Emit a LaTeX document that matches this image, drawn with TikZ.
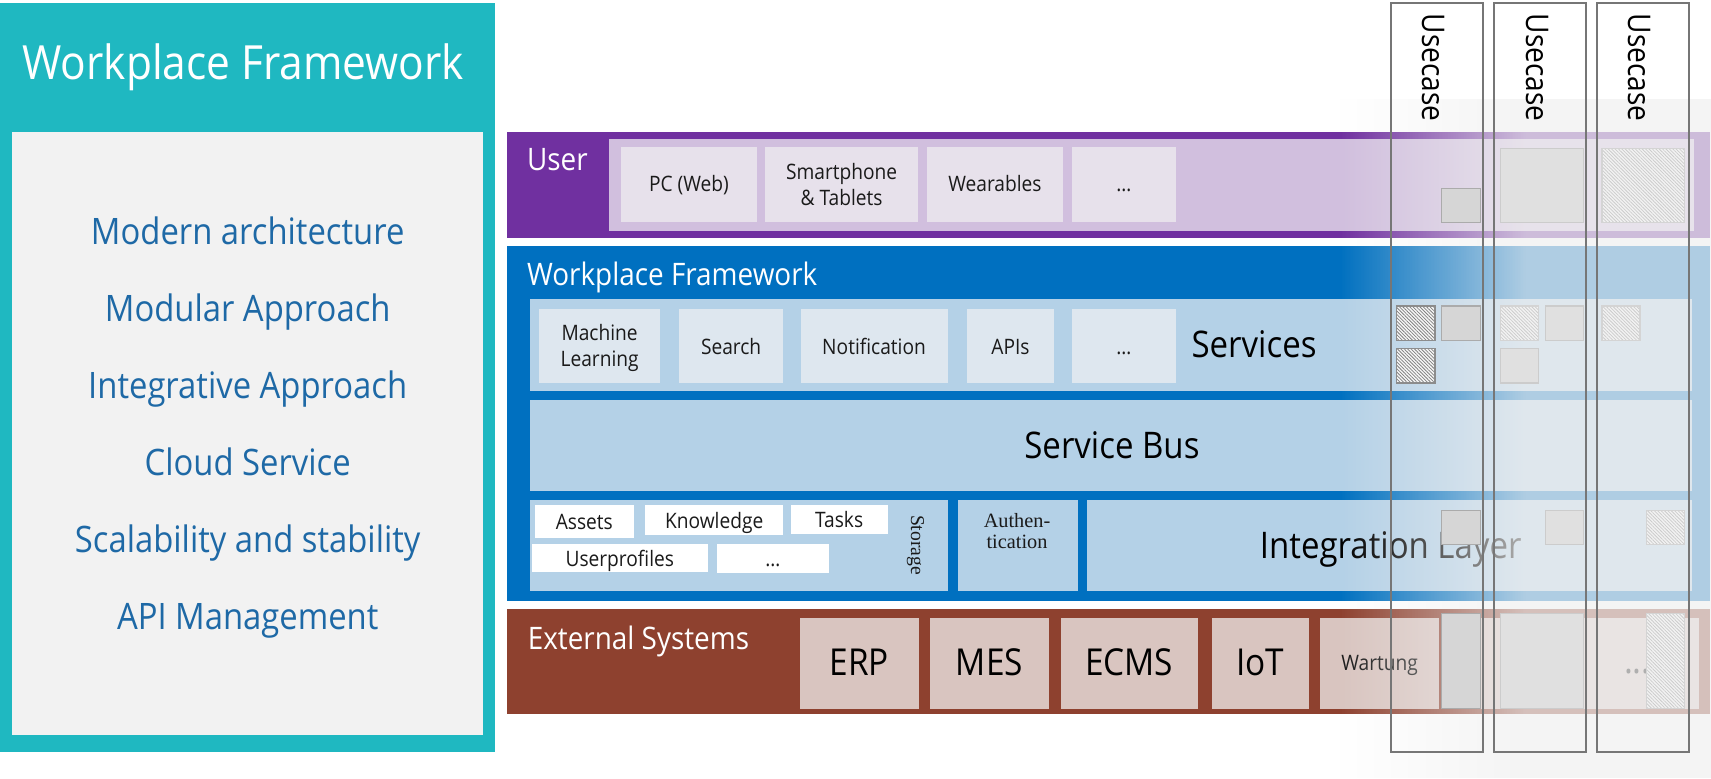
\documentclass[tikz,border=0pt]{standalone}
\usepackage{fontspec}
\setmainfont{Open Sans}[FakeStretch=0.9]
\newfontfamily\serifr{Liberation Serif}
\usetikzlibrary{patterns.meta,fadings}
\newcommand{\fz}[1]{\fontsize{#1}{#1}\selectfont}
\definecolor{tealc}{HTML}{1FB8C1}
\definecolor{pgray}{HTML}{F2F2F2}
\definecolor{bulblue}{HTML}{1E69A6}
\definecolor{purp}{HTML}{7030A0}
\definecolor{lav}{HTML}{D1BFDE}
\definecolor{lavbox}{HTML}{E7E1EB}
\definecolor{wblue}{HTML}{0070C0}
\definecolor{lblue}{HTML}{B4D1E7}
\definecolor{sbox}{HTML}{DEE7EF}
\definecolor{brownc}{HTML}{8E412F}
\definecolor{brbox}{HTML}{D9C5C0}
\definecolor{txtd}{HTML}{1A1A1A}
\definecolor{ovl}{HTML}{F0F0F0}
\definecolor{ucl}{HTML}{767676}
\tikzfading[name=fadeR, left color=transparent!100, right color=transparent!0, middle color=transparent!0]
\begin{document}
\begin{tikzpicture}[x=0.5pt,y=-0.5pt,
  every node/.style={inner sep=0pt,outer sep=0pt},
  ttl/.style={font=\fz{21.6pt},text=white},
  bul/.style={font=\fz{16.7pt},text=bulblue},
  bandlbl/.style={font=\fz{14.2pt},text=white},
  bt/.style={font=\fz{9.75pt},text=txtd},
  bigt/.style={font=\fz{16.8pt},text=black},
  extt/.style={font=\fz{17pt},text=black},
  uct/.style={font=\fz{14.3pt},text=black,rotate=-90},
  sert/.style={font=\serifr\fz{9.3pt},text=txtd},
  ucbox/.style={draw=ucl,line width=0.9pt},
  gsq1/.style={fill=black!16,draw=black!33,line width=0.6pt},
  gsq2/.style={fill=black!12,draw=black!20,line width=0.6pt},
  hsqd/.style={preaction={fill=black!3},pattern={Lines[angle=-45,distance=1.1pt,line width=0.35pt]},pattern color=black!50,draw=black!45,line width=0.6pt},
  hsql/.style={preaction={fill=black!5},pattern={Lines[angle=-45,distance=1.1pt,line width=0.35pt]},pattern color=black!20,draw=black!17,line width=0.6pt}
]
\useasboundingbox (0,0) rectangle (1568,713);
\fill[white] (0,0) rectangle (1568,713);

% left panel
\fill[tealc] (0,3) rectangle (454,689);
\fill[pgray] (11,121) rectangle (443,674);
\node[ttl,anchor=base] (title) at (223,72.7) {Workplace Framework};
\foreach \t [count=\i] in {Modern architecture,Modular Approach,Integrative Approach,Cloud Service,Scalability and stability,API Management}
  \node[bul,anchor=base] (b\i) at (227,{224.5+(\i-1)*70.44}) {\t};

% User band
\fill[purp] (464.5,121) rectangle (1567,218);
\fill[lav] (557.8,127.5) rectangle (1552,211.5);
\node[bandlbl,anchor=base west] (user) at (483,156.4) {User};
\fill[lavbox] (569,134.7) rectangle (693.5,203);
\node[bt,anchor=base] (pc) at (631.3,175.6) {PC (Web)};
\fill[lavbox] (701.5,134.7) rectangle (841,203);
\node[bt,anchor=base] (sp1) at (771.3,164.3) {Smartphone};
\node[bt,anchor=base] (sp2) at (771.3,187.9) {\& Tablets};
\fill[lavbox] (849.5,134.7) rectangle (974,203);
\node[bt,anchor=base] (wear) at (911.8,175.6) {Wearables};
\fill[lavbox] (982,134.7) rectangle (1078,203);
\node[bt,anchor=base] (udots) at (1030,175.6) {…};

% Workplace framework band
\fill[wblue] (464.5,225.4) rectangle (1567,550.5);
\node[bandlbl,anchor=base west] (wf) at (483,261.8) {Workplace Framework};
\fill[lblue] (485.8,274.3) rectangle (1551,358);
\fill[sbox] (494.4,283.2) rectangle (604.5,350.7);
\node[bt,anchor=base] (ml1) at (549.5,311.6) {Machine};
\node[bt,anchor=base] (ml2) at (549.5,336) {Learning};
\fill[sbox] (622.5,283.2) rectangle (717.4,350.7);
\node[bt,anchor=base] (search) at (670,324.5) {Search};
\fill[sbox] (733.7,283.2) rectangle (868.3,350.7);
\node[bt,anchor=base] (notif) at (801,324.5) {Notification};
\fill[sbox] (886.2,283.2) rectangle (965.7,350.7);
\node[bt,anchor=base] (apis) at (926,324.5) {APIs};
\fill[sbox] (982,283.2) rectangle (1077.7,350.7);
\node[bt,anchor=base] (sdots) at (1029.9,324.5) {…};
\node[bigt,anchor=base west] (services) at (1092,328) {Services};

\fill[lblue] (485.8,366.6) rectangle (1551,450);
\node[bigt,anchor=base] (bus) at (1019,420) {Service Bus};

\fill[lblue] (485.4,458.3) rectangle (868.5,541.6);
\fill[lblue] (878,458.3) rectangle (988,541.6);
\fill[lblue] (996,458.3) rectangle (1551,541.6);
\fill[white] (490.4,462.8) rectangle (580.6,492.7);
\node[bt,anchor=base] (assets) at (535.5,484.8) {Assets};
\fill[white] (591,462.8) rectangle (718,490);
\node[bt,anchor=base] (know) at (654.5,484.2) {Knowledge};
\fill[white] (725,462.8) rectangle (813.4,489);
\node[bt,anchor=base] (tasks) at (769,483.3) {Tasks};
\fill[white] (487.6,498.5) rectangle (648.6,523.9);
\node[bt,anchor=base] (uprof) at (568,518.7) {Userprofiles};
\fill[white] (657,498.5) rectangle (759.4,524.8);
\node[bt,anchor=base] (stdots) at (708.2,519) {…};
\node[sert,font=\serifr\fz{9pt},rotate=-90] (storage) at (839,499.5) {Storage};
\node[sert,anchor=base] (auth1) at (932,483.3) {Authen-};
\node[sert,anchor=base] (auth2) at (932,503) {tication};
\node[bigt,anchor=base] (integ) at (1274.5,511.7) {Integration Layer};

% External systems band
\fill[brownc] (464.5,558.4) rectangle (1567,654.6);
\node[bandlbl,anchor=base west] (ext) at (483.7,594.8) {External Systems};
\fill[brbox] (733,566.4) rectangle (841.8,649.5);
\node[extt,anchor=base] (erp) at (787.4,618.6) {ERP};
\fill[brbox] (852.3,566.4) rectangle (961.3,649.5);
\node[extt,anchor=base] (mes) at (906.8,618.6) {MES};
\fill[brbox] (972,566.4) rectangle (1097.6,649.5);
\node[extt,anchor=base] (ecms) at (1034.8,618.6) {ECMS};
\fill[brbox] (1110.4,566.4) rectangle (1199.6,649.5);
\node[extt,anchor=base] (iot) at (1155,618.6) {IoT};
\fill[brbox] (1209.7,566.4) rectangle (1318.8,649.5);
\node[bt,anchor=base] (wartung) at (1264.3,614.6) {Wartung};
\fill[brbox] (1328.8,566.4) rectangle (1557,649.5);
\node[extt,anchor=base] (edots) at (1500.5,617) {...};

% fade overlay
\fill[ovl,fill opacity=0.73,path fading=fadeR] (1228,90) rectangle (1568,713);

% usecase squares
\path[gsq1] (1321,172.6) rectangle (1356.5,204);
\path[gsq2] (1375,136) rectangle (1451,204);
\path[hsql] (1468,136) rectangle (1544,204);

\path[hsqd] (1279.6,280.4) rectangle (1315,312.2);
\path[gsq1] (1321,280.4) rectangle (1356.5,312.2);
\path[hsqd] (1279.6,319.2) rectangle (1315,351);
\path[hsql] (1375,280.4) rectangle (1410,312.2);
\path[gsq2] (1416,280.4) rectangle (1451,312.2);
\path[gsq2] (1375,319.2) rectangle (1410,351);
\path[hsql] (1468,280.4) rectangle (1503,312.2);

\path[gsq1] (1321,468) rectangle (1356.5,499);
\path[gsq2] (1416.5,468) rectangle (1451,499);
\path[hsql] (1509,468) rectangle (1543.5,499);

\path[gsq1] (1321,562) rectangle (1356.5,649);
\path[gsq2] (1375,562) rectangle (1451,649);
\path[hsql] (1509,562) rectangle (1543.5,649);

% usecase columns
\draw[ucbox] (1274.5,2.4) rectangle (1358.8,688.9);
\draw[ucbox] (1369.5,2.4) rectangle (1453.5,688.9);
\draw[ucbox] (1463.3,2.4) rectangle (1548,688.9);
\node[uct] (uc1) at (1313.6,62) {Usecase};
\node[uct] (uc2) at (1409,62) {Usecase};
\node[uct] (uc3) at (1502.3,62) {Usecase};
\end{tikzpicture}
\end{document}
